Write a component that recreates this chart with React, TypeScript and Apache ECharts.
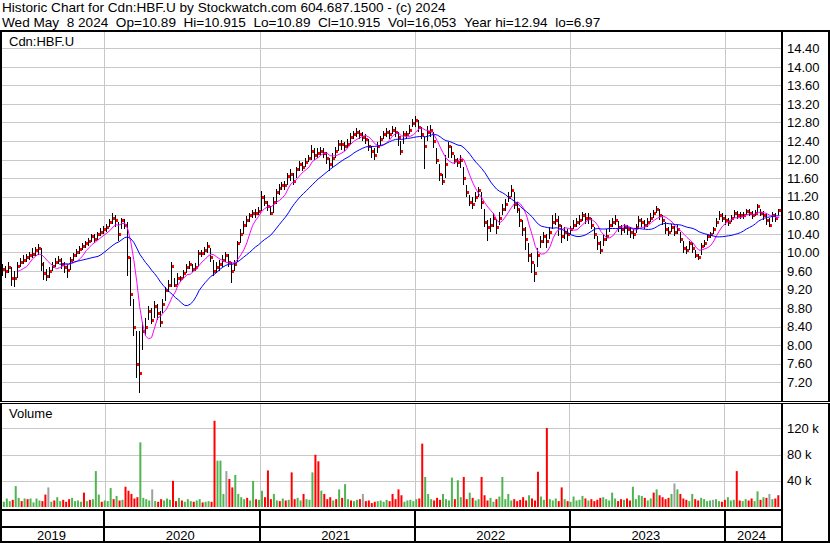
import React, { useEffect, useRef } from 'react';
import * as echarts from 'echarts';

const FONT = '"Liberation Sans", Arial, sans-serif';
const HEADER_1 = 'Historic Chart for Cdn:HBF.U by Stockwatch.com 604.687.1500 - (c) 2024';
const HEADER_2 = 'Wed May \u00a08 2024 \u00a0Op=10.89 \u00a0Hi=10.915 \u00a0Lo=10.89 \u00a0Cl=10.915 \u00a0Vol=16,053 \u00a0Year hi=12.94 \u00a0lo=6.97';
const SYMBOL_LABEL = 'Cdn:HBF.U';
const VOLUME_LABEL = 'Volume';

// weekly bars, first one on Wed 2019-05-08, last one on Wed 2024-05-08
const FIRST_WEEK = Date.UTC(2019, 4, 8);
const AXIS_MIN = Date.UTC(2019, 4, 6);
const AXIS_MAX = Date.UTC(2024, 4, 12);
const WEEK_MS = 7 * 86400000;

const years = [2019, 2020, 2021, 2022, 2023, 2024];

const closes = [
  9.65, 9.6, 9.7, 9.45, 9.45, 9.72, 9.8, 9.85, 9.9, 9.95,
  9.98, 10.05, 10.1, 9.75, 9.55, 9.5, 9.6, 9.72, 9.8, 9.85,
  9.75, 9.7, 9.62, 9.85, 9.95, 10.02, 10.08, 10.15, 10.2, 10.25,
  10.35, 10.3, 10.4, 10.45, 10.5, 10.55, 10.65, 10.75, 10.7, 10.4,
  10.7, 10.6, 9.9, 9.1, 8.4, 7.6, 7.4, 8.3, 8.4, 8.75,
  8.55, 8.85, 8.7, 8.5, 8.9, 9.2, 9.3, 9.72, 9.3, 9.45,
  9.45, 9.55, 9.7, 9.75, 9.65, 9.7, 10.0, 10.0, 10.05, 10.15,
  9.9, 9.6, 9.7, 9.75, 9.85, 9.95, 9.8, 9.6, 9.75, 10.2,
  10.4, 10.6, 10.7, 10.8, 10.85, 10.85, 10.9, 11.2, 11.1, 11.0,
  10.85, 11.1, 11.3, 11.4, 11.45, 11.45, 11.65, 11.7, 11.55, 11.8,
  11.9, 11.85, 11.95, 12.05, 12.2, 12.1, 12.15, 12.2, 12.15, 12.05,
  11.9, 12.05, 12.2, 12.35, 12.35, 12.3, 12.35, 12.5, 12.55, 12.6,
  12.55, 12.5, 12.45, 12.3, 12.2, 12.1, 12.3, 12.45, 12.55, 12.6,
  12.55, 12.65, 12.6, 12.5, 12.2, 12.55, 12.55, 12.65, 12.8, 12.85,
  12.7, 12.55, 12.3, 12.6, 12.65, 12.4, 12.0, 11.7, 11.55, 11.9,
  12.3, 12.15, 12.0, 11.95, 12.0, 11.6, 11.3, 11.1, 11.05, 11.2,
  11.35, 11.1, 10.65, 10.55, 10.6, 10.75, 10.55, 10.75, 10.95, 11.05,
  11.2, 11.35, 11.05, 10.95, 10.7, 10.5, 10.3, 9.95, 9.8, 9.55,
  9.95, 10.25, 10.35, 10.25, 10.45, 10.65, 10.7, 10.6, 10.35, 10.45,
  10.4, 10.5, 10.6, 10.65, 10.7, 10.8, 10.75, 10.75, 10.6, 10.4,
  10.2, 10.05, 10.3, 10.35, 10.6, 10.65, 10.7, 10.55, 10.5, 10.55,
  10.5, 10.45, 10.4, 10.55, 10.7, 10.65, 10.6, 10.65, 10.75, 10.85,
  10.95, 10.8, 10.7, 10.5, 10.45, 10.55, 10.45, 10.5, 10.3, 10.1,
  10.05, 10.2, 10.1, 9.95, 9.9, 10.15, 10.2, 10.35, 10.4, 10.5,
  10.65, 10.8, 10.75, 10.7, 10.65, 10.75, 10.85, 10.8, 10.8, 10.8,
  10.9, 10.85, 10.8, 10.85, 11.0, 10.85, 10.8, 10.7, 10.6, 10.8,
  10.75, 10.92,
];

const highs = [
  9.75, 9.72, 9.8, 9.7, 9.6, 9.8, 9.88, 9.95, 9.98, 10.02,
  10.1, 10.12, 10.18, 10.1, 9.8, 9.65, 9.7, 9.8, 9.88, 9.92,
  9.88, 9.8, 9.75, 9.9, 10.0, 10.08, 10.15, 10.2, 10.25, 10.32,
  10.4, 10.4, 10.45, 10.52, 10.58, 10.62, 10.72, 10.85, 10.8, 10.65,
  10.75, 10.72, 10.65, 9.9, 9.0, 8.3, 8.3, 8.5, 8.6, 8.85,
  8.8, 8.95, 8.9, 8.75, 9.0, 9.25, 9.4, 9.8, 9.45, 9.55,
  9.5, 9.62, 9.75, 9.82, 9.75, 9.78, 10.05, 10.05, 10.12, 10.22,
  10.1, 9.85, 9.8, 9.85, 9.95, 10.02, 9.98, 9.8, 9.85, 10.25,
  10.5, 10.68, 10.78, 10.85, 10.92, 10.95, 10.98, 11.32, 11.25, 11.12,
  11.0, 11.2, 11.38, 11.48, 11.52, 11.55, 11.72, 11.8, 11.72, 11.85,
  11.98, 11.95, 12.05, 12.1, 12.32, 12.25, 12.25, 12.28, 12.25, 12.18,
  12.05, 12.15, 12.28, 12.42, 12.42, 12.38, 12.45, 12.58, 12.62, 12.68,
  12.65, 12.6, 12.55, 12.45, 12.3, 12.25, 12.38, 12.52, 12.62, 12.68,
  12.65, 12.72, 12.7, 12.6, 12.4, 12.62, 12.62, 12.75, 12.88, 12.94,
  12.85, 12.7, 12.5, 12.72, 12.75, 12.6, 12.25, 11.9, 11.7, 12.1,
  12.38, 12.3, 12.1, 12.05, 12.1, 11.85, 11.45, 11.25, 11.2, 11.3,
  11.42, 11.3, 10.95, 10.7, 10.75, 10.85, 10.72, 10.88, 11.05, 11.15,
  11.3, 11.45, 11.3, 11.1, 10.95, 10.7, 10.55, 10.2, 10.0, 9.75,
  10.1, 10.35, 10.45, 10.4, 10.55, 10.8, 10.85, 10.78, 10.6, 10.55,
  10.5, 10.58, 10.7, 10.75, 10.8, 10.88, 10.85, 10.85, 10.75, 10.55,
  10.35, 10.25, 10.4, 10.5, 10.7, 10.75, 10.8, 10.68, 10.6, 10.62,
  10.6, 10.55, 10.5, 10.62, 10.78, 10.75, 10.7, 10.75, 10.85, 10.92,
  11.0, 10.95, 10.8, 10.65, 10.55, 10.62, 10.58, 10.6, 10.45, 10.25,
  10.15, 10.25, 10.2, 10.05, 9.98, 10.2, 10.28, 10.4, 10.45, 10.55,
  10.75, 10.9, 10.85, 10.8, 10.75, 10.82, 10.92, 10.9, 10.88, 10.88,
  10.95, 10.95, 10.9, 10.92, 11.05, 10.95, 10.9, 10.85, 10.75, 10.88,
  10.85, 10.95,
];

const lows = [
  9.5, 9.45, 9.55, 9.28, 9.26, 9.45, 9.68, 9.75, 9.8, 9.85,
  9.88, 9.92, 9.95, 9.6, 9.4, 9.38, 9.45, 9.6, 9.7, 9.75,
  9.65, 9.55, 9.45, 9.62, 9.82, 9.9, 9.98, 10.05, 10.1, 10.15,
  10.22, 10.2, 10.28, 10.35, 10.4, 10.45, 10.55, 10.62, 10.55, 10.25,
  10.5, 10.5, 9.5, 8.85, 8.2, 7.3, 6.97, 7.9, 8.2, 8.55,
  8.45, 8.6, 8.55, 8.4, 8.7, 8.95, 9.15, 9.25, 9.25, 9.3,
  9.38, 9.45, 9.55, 9.65, 9.58, 9.6, 9.7, 9.9, 9.95, 10.0,
  9.8, 9.5, 9.55, 9.6, 9.7, 9.8, 9.7, 9.35, 9.6, 9.8,
  10.2, 10.4, 10.55, 10.65, 10.75, 10.75, 10.8, 10.9, 11.0, 10.9,
  10.82, 10.85, 11.05, 11.25, 11.35, 11.35, 11.45, 11.55, 11.45, 11.6,
  11.75, 11.75, 11.85, 11.95, 12.0, 12.0, 12.05, 12.1, 12.05, 11.9,
  11.75, 11.85, 12.05, 12.2, 12.22, 12.2, 12.25, 12.35, 12.45, 12.5,
  12.45, 12.4, 12.35, 12.2, 12.05, 12.0, 12.15, 12.3, 12.45, 12.5,
  12.45, 12.55, 12.5, 12.3, 12.1, 12.35, 12.45, 12.55, 12.7, 12.7,
  12.6, 12.45, 11.8, 12.4, 12.5, 12.25, 11.9, 11.55, 11.45, 11.6,
  12.05, 12.05, 11.9, 11.85, 11.82, 11.45, 11.2, 11.0, 10.95, 11.1,
  11.2, 10.95, 10.55, 10.25, 10.45, 10.55, 10.4, 10.6, 10.8, 10.9,
  11.1, 11.2, 10.95, 10.85, 10.55, 10.35, 10.05, 9.8, 9.55, 9.37,
  9.7, 10.1, 10.2, 10.1, 10.3, 10.5, 10.6, 10.35, 10.2, 10.3,
  10.25, 10.38, 10.5, 10.55, 10.6, 10.68, 10.62, 10.62, 10.5, 10.3,
  10.05, 9.98, 10.15, 10.25, 10.45, 10.55, 10.6, 10.45, 10.38, 10.42,
  10.38, 10.32, 10.3, 10.42, 10.55, 10.55, 10.5, 10.55, 10.65, 10.75,
  10.85, 10.7, 10.6, 10.4, 10.35, 10.45, 10.35, 10.4, 10.2, 10.0,
  9.98, 10.05, 10.0, 9.88, 9.85, 9.95, 10.12, 10.25, 10.32, 10.4,
  10.55, 10.7, 10.65, 10.6, 10.58, 10.65, 10.75, 10.72, 10.72, 10.72,
  10.8, 10.78, 10.72, 10.78, 10.85, 10.78, 10.7, 10.6, 10.55, 10.65,
  10.65, 10.8,
];

// weekly volume, thousands of shares
const volumes = [
  8, 13, 9, 11, 32, 14, 9, 13, 12, 13,
  7, 13, 10, 9, 19, 30, 8, 10, 15, 9,
  11, 8, 12, 14, 9, 10, 8, 22, 9, 11,
  12, 55, 19, 8, 10, 9, 29, 12, 17, 10,
  11, 31, 25, 20, 13, 15, 99, 14, 12, 10,
  27, 9, 8, 12, 10, 13, 11, 40, 9, 14,
  10, 8, 12, 9, 8, 10, 12, 7, 8, 9,
  8, 132, 71, 71, 20, 55, 43, 30, 49, 20,
  15, 12, 14, 10, 40, 12, 11, 25, 15, 56,
  12, 20, 10, 9, 13, 10, 11, 53, 12, 14,
  10, 20, 12, 11, 53, 80, 70, 25, 20, 12,
  15, 10, 12, 27, 14, 35, 12, 10, 9, 11,
  12, 20, 9, 10, 6, 8, 9, 10, 8, 11,
  9, 20, 12, 27, 18, 8, 10, 11, 9, 12,
  13, 97, 46, 20, 12, 10, 14, 11, 20, 12,
  10, 45, 12, 41, 15, 46, 12, 22, 14, 10,
  12, 46, 18, 10, 14, 8, 12, 16, 46, 12,
  20, 10, 12, 9, 11, 15, 10, 18, 13, 10,
  54, 16, 11, 121, 12, 10, 13, 9, 30, 12,
  9, 8, 16, 10, 11, 17, 13, 10, 12, 9,
  11, 14, 15, 12, 10, 22, 13, 9, 12, 11,
  13, 10, 31, 12, 18, 17, 14, 10, 13, 22,
  27, 18, 15, 12, 14, 20, 36, 27, 20, 13,
  11, 9, 20, 12, 10, 14, 12, 9, 10, 11,
  12, 9, 8, 11, 15, 10, 11, 55, 10, 9,
  12, 10, 13, 9, 24, 11, 15, 14, 20, 12,
  13, 18,
];

// volume bar colour per week: g = up, r = down, n = unchanged
const volumeColors =
  'gggrggrgrg' + 'gggrrngrgg' + 'rrrggggrgr' + 'gggrgggrgr' + 'grrrrrgggg' +
  'ngrrgggrrg' + 'rgggrggrgg' + 'rrgggnrrgg' + 'ggrggrggrr' + 'rggrgrgrrg' +
  'grgggrrgrr' + 'rgrgrggrgg' + 'rnrrrrgggg' + 'rrrrrggggg' + 'rrgggrrrgg' +
  'ggrggrrgrg' + 'grrrggrggg' + 'ggrrrrrgrr' + 'rggrgggrrg' + 'rgggggrgrr' +
  'rrgggggrrg' + 'rrggggrggr' + 'grrrrgngrr' + 'rggrrggggn' + 'ggrrgggrrg' +
  'grrggrgrng' + 'rr';

const COLOR_OF: Record<string, string> = { g: '#50b450', r: '#ff0000', n: '#a0a0a0' };

function sma(values: number[], n: number): (number | null)[] {
  return values.map((_, i) => {
    if (i < n - 1) return null;
    let s = 0;
    for (let j = i - n + 1; j <= i; j++) s += values[j];
    return s / n;
  });
}

export default function App() {
  const ref = useRef<HTMLDivElement>(null);

  useEffect(() => {
    if (!ref.current) return;
    const chart = echarts.init(ref.current, undefined, { renderer: 'svg' });

    const times = closes.map((_, k) => FIRST_WEEK + k * WEEK_MS);
    const priceData = times.map((t, k) => [t, lows[k], highs[k], closes[k]]);
    const maShort = sma(closes, 6);
    const maLong = sma(closes, 20);
    const volData = times.map((t, k) => ({
      value: [t, volumes[k]],
      itemStyle: { color: COLOR_OF[volumeColors[k]] || '#a0a0a0' },
    }));
    const yearStarts = years.slice(1).map((y) => Date.UTC(y, 0, 1));
    const yearCells = years.map((y) => [Date.UTC(y, 0, 1), Date.UTC(y + 1, 0, 1), y]);

    const gridLineItem = (params: any, api: any) => {
      const cs = params.coordSys;
      const x = Math.round(api.coord([api.value(0), api.value(1)])[0]);
      return {
        type: 'rect',
        shape: { x: x, y: cs.y, width: 1, height: cs.height },
        style: { fill: '#c8c8c8' },
      };
    };

    const textStyle = (text: string, x: number, y: number, align = 'left', size = 13) => ({
      text,
      x,
      y,
      fill: '#000',
      fontSize: size,
      fontFamily: FONT,
      align,
      textAlign: align,
      verticalAlign: 'middle',
      textVerticalAlign: 'middle',
    });

    const frame = [
      { x: 0, y: 30, w: 830, h: 2 },
      { x: 0, y: 30, w: 2, h: 513 },
      { x: 781, y: 30, w: 2, h: 513 },
      { x: 828, y: 30, w: 2, h: 513 },
      { x: 0, y: 401, w: 830, h: 1 },
      { x: 0, y: 403, w: 830, h: 1 },
      { x: 0, y: 509, w: 783, h: 2 },
      { x: 0, y: 526, w: 783, h: 2 },
      { x: 0, y: 541, w: 830, h: 2 },
    ];

    chart.setOption({
      animation: false,
      backgroundColor: '#fff',
      grid: [
        { left: 2, top: 30, width: 779, height: 371 },
        { left: 2, top: 402.5, width: 779, height: 104.5 },
        { left: 2, top: 510, width: 779, height: 32 },
      ],
      xAxis: [0, 1, 2].map((i) => ({
        type: 'time',
        gridIndex: i,
        min: AXIS_MIN,
        max: AXIS_MAX,
        show: false,
      })),
      yAxis: [
        {
          type: 'value',
          gridIndex: 0,
          position: 'right',
          min: 6.8,
          max: 14.8,
          interval: 0.4,
          axisLine: { show: false },
          axisTick: { show: false },
          axisLabel: {
            margin: 6,
            color: '#000',
            fontSize: 13,
            fontFamily: FONT,
            showMinLabel: false,
            showMaxLabel: false,
            formatter: (v: number) => v.toFixed(2),
          },
          splitLine: {
            show: true,
            showMinLine: false,
            showMaxLine: false,
            lineStyle: { color: '#c8c8c8', width: 1 },
          },
        },
        {
          type: 'value',
          gridIndex: 1,
          position: 'right',
          min: 0,
          max: 160,
          interval: 40,
          axisLine: { show: false },
          axisTick: { show: false },
          axisLabel: {
            margin: 6,
            color: '#000',
            fontSize: 13,
            fontFamily: FONT,
            showMinLabel: false,
            showMaxLabel: false,
            formatter: (v: number) => `${v} k`,
          },
          splitLine: {
            show: true,
            showMinLine: false,
            showMaxLine: false,
            lineStyle: { color: '#c8c8c8', width: 1 },
          },
        },
        { type: 'value', gridIndex: 2, min: 0, max: 1, show: false },
      ],
      series: [
        {
          type: 'custom',
          name: 'yearGridPrice',
          xAxisIndex: 0,
          yAxisIndex: 0,
          z: 1,
          silent: true,
          data: yearStarts.map((t) => [t, 10]),
          renderItem: gridLineItem,
        },
        {
          type: 'custom',
          name: 'yearGridVolume',
          xAxisIndex: 1,
          yAxisIndex: 1,
          z: 1,
          silent: true,
          data: yearStarts.map((t) => [t, 10]),
          renderItem: gridLineItem,
        },
        {
          type: 'custom',
          name: 'price',
          xAxisIndex: 0,
          yAxisIndex: 0,
          z: 2,
          silent: true,
          encode: { x: 0, y: [1, 2, 3] },
          data: priceData,
          renderItem: (params: any, api: any) => {
            const t = api.value(0);
            const pLo = api.coord([t, api.value(1)]);
            const pHi = api.coord([t, api.value(2)]);
            const pCl = api.coord([t, api.value(3)]);
            const x = Math.round(pHi[0]);
            const top = Math.round(pHi[1]);
            const bottom = Math.round(pLo[1]);
            return {
              type: 'group',
              children: [
                {
                  type: 'rect',
                  shape: { x: x - 1, y: top, width: 1, height: Math.max(2, bottom - top) },
                  style: { fill: '#000' },
                },
                {
                  type: 'rect',
                  shape: { x: x, y: Math.round(pCl[1]) - 1, width: 2, height: 3 },
                  style: { fill: '#ff0000' },
                },
              ],
            };
          },
        },
        {
          type: 'line',
          name: 'MA short',
          xAxisIndex: 0,
          yAxisIndex: 0,
          z: 3,
          showSymbol: false,
          silent: true,
          data: times.map((t, k) => [t, maShort[k]]),
          lineStyle: { color: '#ff00ff', width: 1 },
        },
        {
          type: 'line',
          name: 'MA long',
          xAxisIndex: 0,
          yAxisIndex: 0,
          z: 3,
          showSymbol: false,
          silent: true,
          data: times.map((t, k) => [t, maLong[k]]),
          lineStyle: { color: '#0000ff', width: 1 },
        },
        {
          type: 'bar',
          name: 'Volume',
          xAxisIndex: 1,
          yAxisIndex: 1,
          z: 2,
          barWidth: 2,
          silent: true,
          data: volData,
        },
        {
          type: 'custom',
          name: 'years',
          xAxisIndex: 2,
          yAxisIndex: 2,
          z: 5,
          silent: true,
          clip: false,
          data: yearCells,
          renderItem: (params: any, api: any) => {
            const cs = params.coordSys;
            const left = cs.x;
            const right = cs.x + cs.width;
            let x0 = api.coord([api.value(0), 0])[0];
            let x1 = api.coord([api.value(1), 0])[0];
            const children: any[] = [];
            if (x0 > left + 1) {
              children.push({
                type: 'rect',
                shape: { x: Math.round(x0) - 1, y: cs.y, width: 2, height: cs.height },
                style: { fill: '#000' },
              });
            }
            x0 = Math.max(x0, left);
            x1 = Math.min(x1, right);
            children.push({
              type: 'text',
              style: textStyle(String(api.value(2)), (x0 + x1) / 2 - 1.5, cs.y + cs.height - 7, 'center'),
            });
            return { type: 'group', children };
          },
        },
      ],
      graphic: [
        ...frame.map((r) => ({
          type: 'rect',
          z: 100,
          silent: true,
          shape: { x: r.x, y: r.y, width: r.w, height: r.h },
          style: { fill: '#000' },
        })),
        { type: 'rect', z: 100, silent: true, shape: { x: 0, y: 402, width: 830, height: 1 }, style: { fill: '#fff' } },
        { type: 'text', z: 101, silent: true, style: textStyle(HEADER_1, 2, 7, 'left', 13.6) },
        { type: 'text', z: 101, silent: true, style: textStyle(HEADER_2, 2, 22.8, 'left', 13.6) },
        { type: 'text', z: 101, silent: true, style: textStyle(SYMBOL_LABEL, 9, 41) },
        { type: 'text', z: 101, silent: true, style: textStyle(VOLUME_LABEL, 9, 413.3) },
      ],
    });

    return () => chart.dispose();
  }, []);

  return (
    <div
      ref={ref}
      style={{ position: 'absolute', left: 0, top: 0, width: 830, height: 543, background: '#fff' }}
    />
  );
}
